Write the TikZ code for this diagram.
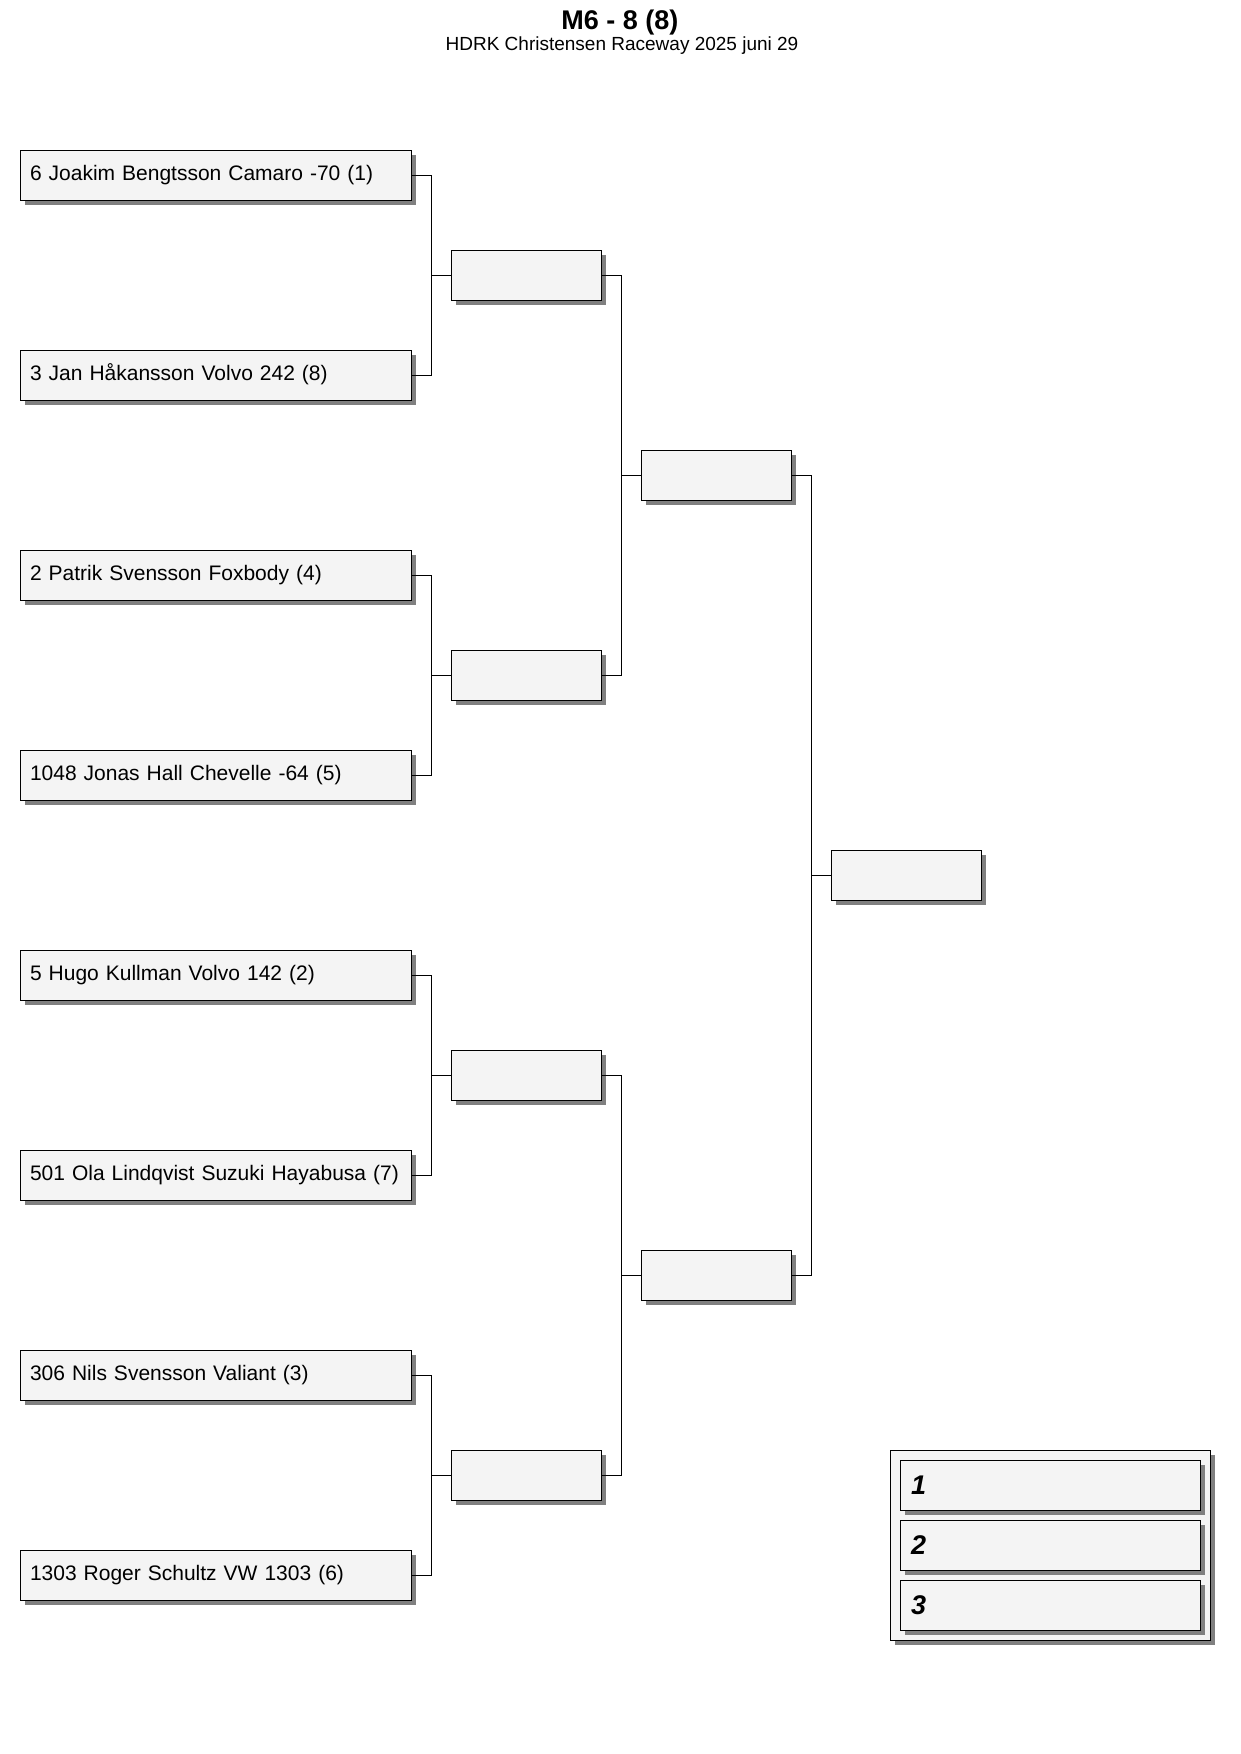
\documentclass[tikz,border=0pt]{standalone}
\usepackage{fontspec}
\setmainfont{Liberation Sans}
\usetikzlibrary{shadows}
\definecolor{boxfill}{HTML}{F4F4F4}
\definecolor{shadowgray}{HTML}{808080}
\tikzset{
  basebox/.style={draw=black, line width=1pt, fill=boxfill, inner sep=0pt,
    drop shadow={shadow xshift=4.5pt, shadow yshift=-4.5pt, fill=shadowgray, opacity=1}},
  entrant/.style={basebox, minimum width=391pt, minimum height=50pt,
    text width=372pt, align=left, inner xsep=9.5pt,
    font=\fontsize{21}{24}\selectfont, text height=14.5pt, text depth=4.5pt},
  matchbox/.style={basebox, minimum width=150pt, minimum height=50pt},
  podium/.style={basebox, minimum width=320pt, minimum height=190pt},
  placebox/.style={basebox, minimum width=300pt, minimum height=50pt,
    text width=279pt, align=left, inner xsep=10.5pt,
    font=\fontsize{27}{30}\selectfont\bfseries\itshape},
  link/.style={draw=black, line width=1pt}
}
\begin{document}
\begin{tikzpicture}[x=1pt, y=-1pt]
\useasboundingbox (0,0) rectangle (1240,1754);
% titles
\node[anchor=base, inner sep=0pt, font=\fontsize{27}{30}\selectfont\bfseries] (title) at (620,29.5) {M6 - 8 (8)};
\node[anchor=base, inner sep=0pt, font=\fontsize{19}{22}\selectfont] (subtitle) at (622,50) {HDRK Christensen Raceway 2025 juni 29};
% round 1
\node[entrant] (e1) at (216,175.5) {6 Joakim Bengtsson Camaro -70 (1)};
\node[entrant] (e2) at (216,375.5) {3 Jan Håkansson Volvo 242 (8)};
\node[entrant] (e3) at (216,575.5) {2 Patrik Svensson Foxbody (4)};
\node[entrant] (e4) at (216,775.5) {1048 Jonas Hall Chevelle -64 (5)};
\node[entrant] (e5) at (216,975.5) {5 Hugo Kullman Volvo 142 (2)};
\node[entrant] (e6) at (216,1175.5) {501 Ola Lindqvist Suzuki Hayabusa (7)};
\node[entrant] (e7) at (216,1375.5) {306 Nils Svensson Valiant (3)};
\node[entrant] (e8) at (216,1575.5) {1303 Roger Schultz VW 1303 (6)};
% round 2
\node[matchbox] (s1) at (526.5,275.5) {};
\node[matchbox] (s2) at (526.5,675.5) {};
\node[matchbox] (s3) at (526.5,1075.5) {};
\node[matchbox] (s4) at (526.5,1475.5) {};
% round 3
\node[matchbox] (t1) at (716.5,475.5) {};
\node[matchbox] (t2) at (716.5,1275.5) {};
% final
\node[matchbox] (f) at (906.5,875.5) {};
% junction coordinates
\coordinate (j1) at (431.5,275.5);
\coordinate (j2) at (431.5,675.5);
\coordinate (j3) at (431.5,1075.5);
\coordinate (j4) at (431.5,1475.5);
\coordinate (k1) at (621.5,475.5);
\coordinate (k2) at (621.5,1275.5);
\coordinate (m1) at (811.5,875.5);
% connectors
\draw[link] (e1.east) -| (j1) |- (e2.east);
\draw[link] (j1) -- (s1.west);
\draw[link] (e3.east) -| (j2) |- (e4.east);
\draw[link] (j2) -- (s2.west);
\draw[link] (e5.east) -| (j3) |- (e6.east);
\draw[link] (j3) -- (s3.west);
\draw[link] (e7.east) -| (j4) |- (e8.east);
\draw[link] (j4) -- (s4.west);
\draw[link] (s1.east) -| (k1) |- (s2.east);
\draw[link] (k1) -- (t1.west);
\draw[link] (s3.east) -| (k2) |- (s4.east);
\draw[link] (k2) -- (t2.west);
\draw[link] (t1.east) -| (m1) |- (t2.east);
\draw[link] (m1) -- (f.west);
% podium
\node[podium] (pod) at (1050.5,1545.5) {};
\node[placebox] (p1) at (1050.5,1485.5) {1};
\node[placebox] (p2) at (1050.5,1545.5) {2};
\node[placebox] (p3) at (1050.5,1605.5) {3};
\end{tikzpicture}
\end{document}
